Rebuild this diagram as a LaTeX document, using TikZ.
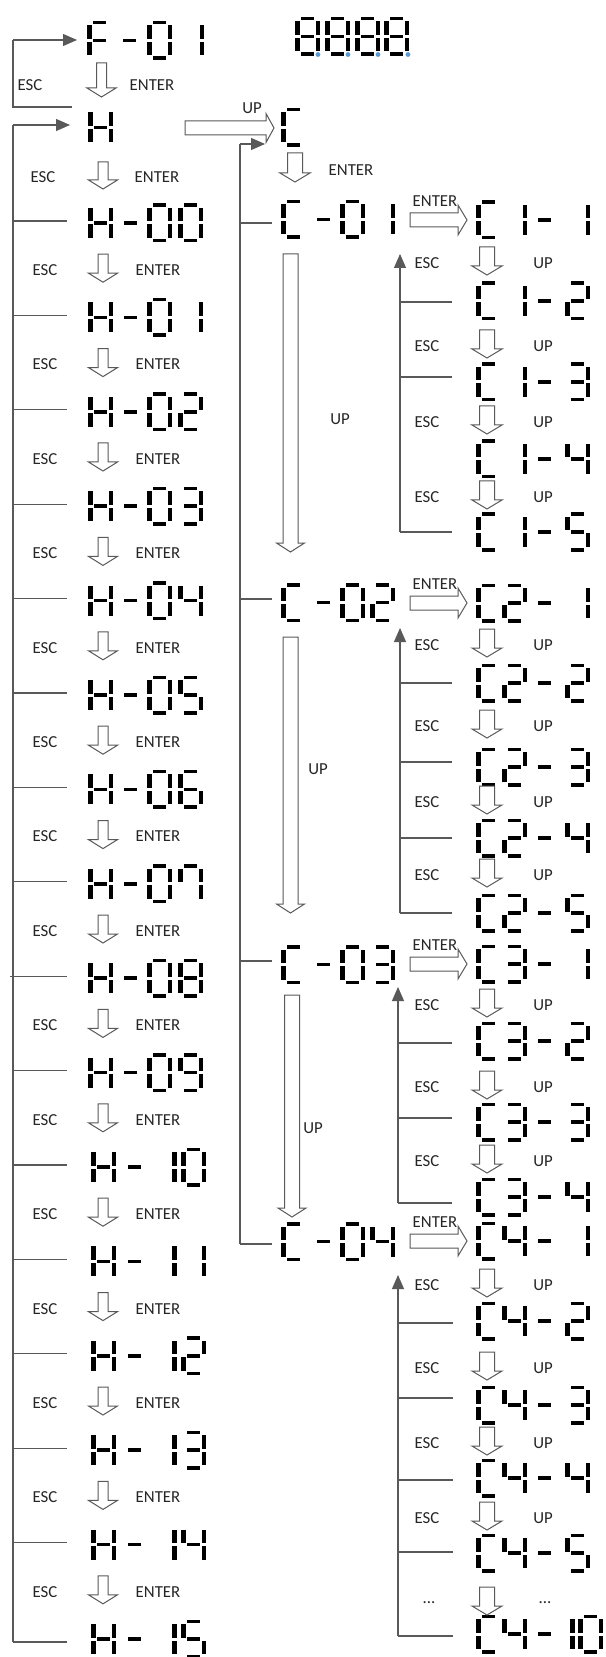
\documentclass[tikz,border=0pt]{standalone}
\usepackage{fontspec}
\setmainfont{Carlito}
\usetikzlibrary{arrows.meta}
\definecolor{dotblue}{HTML}{5B9BD5}
\definecolor{linegray}{HTML}{595959}

% seven-segment pieces, cell 25 x 39 px, origin top-left
\def\segA#1#2{\fill (#1+6,#2) rectangle (#1+19,#2+3.5);}
\def\segB#1#2{\fill (#1+20.5,#2+4.5) rectangle (#1+25,#2+18);}
\def\segC#1#2{\fill (#1+20.5,#2+21) rectangle (#1+25,#2+34.5);}
\def\segD#1#2{\fill (#1+6,#2+35.5) rectangle (#1+19,#2+39);}
\def\segE#1#2{\fill (#1,#2+21) rectangle (#1+4.5,#2+34.5);}
\def\segF#1#2{\fill (#1,#2+4.5) rectangle (#1+4.5,#2+18);}
\def\segG#1#2{\fill (#1+6,#2+17.75) rectangle (#1+19,#2+21.25);}
\expandafter\def\csname sd0\endcsname{A,B,C,D,E,F}
\expandafter\def\csname sd1\endcsname{B,C}
\expandafter\def\csname sd2\endcsname{A,B,G,E,D}
\expandafter\def\csname sd3\endcsname{A,B,G,C,D}
\expandafter\def\csname sd4\endcsname{F,G,B,C}
\expandafter\def\csname sd5\endcsname{A,F,G,C,D}
\expandafter\def\csname sd6\endcsname{A,F,G,E,C,D}
\expandafter\def\csname sd7\endcsname{A,B,C,F}
\expandafter\def\csname sd8\endcsname{A,B,C,D,E,F,G}
\expandafter\def\csname sd9\endcsname{A,B,C,D,F,G}
\expandafter\def\csname sdC\endcsname{A,F,E,D}
\expandafter\def\csname sdH\endcsname{F,E,B,C,G}
\expandafter\def\csname sdF\endcsname{A,F,E,G}
\expandafter\def\csname sd-\endcsname{G}
\expandafter\def\csname sdi\endcsname{E,F}
\newcommand\ssd[3]{\edef\sdlist{\csname sd#3\endcsname}\foreach \q in \sdlist {\csname seg\q\endcsname{#1}{#2}}}
\newcommand\disp[2]{\foreach \px/\pc in {#2}{\edef\dtmp{\noexpand\ssd{\px}{#1}{\pc}}\dtmp}}
% hollow arrows
\newcommand\varrow[5]{\draw[hollow] (#1-#4/2,#2) -- (#1+#4/2,#2) -- (#1+#4/2,#3-9) -- (#1+#5/2,#3-9) -- (#1,#3) -- (#1-#5/2,#3-9) -- (#1-#4/2,#3-9) -- cycle;}
\newcommand\harrow[6]{\draw[hollow] (#1,#3-#4/2) -- (#2-#6,#3-#4/2) -- (#2-#6,#3-#5/2) -- (#2,#3) -- (#2-#6,#3+#5/2) -- (#2-#6,#3+#4/2) -- (#1,#3+#4/2) -- cycle;}

\tikzset{
  conn/.style={draw=linegray, line width=0.55pt},
  tip/.style={-{Triangle[length=7pt,width=6pt]}},
  hollow/.style={draw=linegray, line width=0.5pt, fill=white},
  lbl/.style={font=\fontsize{8.4}{10}\selectfont, text=black!85, inner sep=0pt},
}

\begin{document}
\begin{tikzpicture}[x=0.5pt,y=-0.5pt]
\useasboundingbox (0,0) rectangle (605,1657);
\fill[white] (0,0) rectangle (605,1657);

% ---------- top displays ----------
\coordinate (F01) at (87,40);
\disp{21}{87/F,117/-,147/0,179/1}
\disp{17}{295/8,325/8,355/8,384/8}
\foreach \dx in {318,348,378,408} \fill[dotblue] (\dx,54.5) circle (1.2pt);

% ---------- left column ----------
\coordinate (b1t) at (13,40);
\coordinate (b1b) at (13,107);
\coordinate (b1e) at (72,107);
\draw[conn] (b1e) -- (b1b) -- (b1t);
\draw[conn,tip] (b1t) -- ([xshift=-5pt]F01);
\varrow{101.5}{63}{97}{10}{29}
\node[lbl] (escA) at (30,85) {ESC};
\node[lbl] (entA) at (152,85) {ENTER};

\coordinate (H) at (88,125);
\disp{108}{88/H}
\coordinate (b2t) at (13,125);
\coordinate (b2b) at (13,1642);
\draw[conn] (b2b) -- (b2t);
\draw[conn,tip] (b2t) -- ([xshift=-9pt]H);
\varrow{103}{162}{189}{10}{29}
\node[lbl] (escB) at (43,177) {ESC};
\node[lbl] (entB) at (157,177) {ENTER};

\foreach \k/\da/\db in {0/0/0,1/0/1,2/0/2,3/0/3,4/0/4,5/0/5,6/0/6,7/0/7,8/0/8,9/0/9}{
  \pgfmathsetmacro\cy{223+94.4*\k}
  \pgfmathsetmacro\ty{\cy-19.5}
  \coordinate (Hr\k) at (88,\cy);
  \disp{\ty}{88/H,118/-,147/\da,178/\db}
}
\foreach \k/\db in {10/0,11/1,12/2,13/3,14/4,15/5}{
  \pgfmathsetmacro\cy{223+94.4*\k}
  \pgfmathsetmacro\ty{\cy-19.5}
  \coordinate (Hr\k) at (91,\cy);
  \disp{\ty}{91/H,122/-,151.5/1,181/\db}
}
\foreach \k in {0,...,15}{
  \pgfmathsetmacro\cy{223+94.4*\k}
  \ifnum\k=8
    \draw[conn] (10,\cy-2) -- (67,\cy-2);
  \else\ifnum\k=15
    \draw[conn] (b2b) -- (67,1642);
  \else
    \draw[conn] (b2t |- Hr\k) ++(0,-2) -- ++(54,0);
  \fi\fi
  \ifnum\k<15
    \pgfmathsetmacro\ly{\cy+47.2}
    \varrow{103}{\ly-16}{\ly+12}{10}{29}
    \node[lbl] (escL\k) at (45,\ly) {ESC};
    \node[lbl] (entL\k) at (158,\ly) {ENTER};
  \fi
}

% ---------- middle column ----------
\harrow{185}{274}{128}{14}{29}{8}
\node[lbl] (upHC) at (252,108) {UP};
\coordinate (C) at (281,144);
\disp{108}{281/C}
\coordinate (mt) at (240,144);
\coordinate (mb) at (240,1244);
\draw[conn] (mb) -- (mt);
\draw[conn,tip] (mt) -- ([xshift=-8pt]C);
\varrow{295}{153}{182}{15}{30}
\node[lbl] (entC) at (351,170) {ENTER};

\foreach \k/\ty/\cy/\tk in {1/200/220/223,2/583/603/599,3/945/964/961,4/1222/1241/1244}{
  \coordinate (Cm\k) at (281,\cy);
  \disp{\ty}{281/C,311/-,340/0,370/\k}
  \draw[conn] (240,\tk) -- (272,\tk);
  \harrow{410}{467}{\cy}{14}{30}{9}
  \node[lbl] (entM\k) at (435,\cy-19) {ENTER};
}
\varrow{290.5}{254}{552}{15}{28}
\node[lbl] (upM1) at (340,419) {UP};
\varrow{290.5}{637}{913}{15}{28}
\node[lbl] (upM2) at (318,769) {UP};
\varrow{292}{995}{1217}{15}{28}
\node[lbl] (upM3) at (313,1128) {UP};

% ---------- right column ----------
% C1
\foreach \r/\ty in {1/200.5,2/281.5,3/362.5,4/439.5,5/512.5}{
  \coordinate (R1\r) at (476,\ty+19.5);
  \disp{\ty}{476/C,502/1,532/-,565/\r}}
\coordinate (e1t) at (400,254);
\coordinate (e1b) at (400,532);
\draw[conn,tip] (e1b) -- (e1t);
\foreach \t in {302,377,532} \draw[conn] (400,\t) -- (452,\t);
\foreach \L in {263,346,422,497}{
  \varrow{487}{\L-16}{\L+12}{15}{30}
  \node[lbl] (escR\L) at (427,\L) {ESC};
  \node[lbl] (upR\L) at (543,\L) {UP};}

% C2
\foreach \r/\ty in {1/583.5,2/663.5,3/747.5,4/818.5,5/893.5}{
  \coordinate (R2\r) at (476,\ty+19.5);
  \disp{\ty}{476/C,502/2,532/-,565/\r}}
\coordinate (e2t) at (400,628);
\coordinate (e2b) at (400,913);
\draw[conn,tip] (e2b) -- (e2t);
\foreach \t in {683,762,838,913} \draw[conn] (400,\t) -- (452,\t);
\foreach \L in {645,726,802,875}{
  \varrow{487}{\L-16}{\L+12}{15}{30}
  \node[lbl] (escR\L) at (427,\L) {ESC};
  \node[lbl] (upR\L) at (543,\L) {UP};}

% C3
\foreach \r/\ty in {1/944.5,2/1021.5,3/1102.5,4/1177.5}{
  \coordinate (R3\r) at (476,\ty+19.5);
  \disp{\ty}{476/C,502/3,532/-,565/\r}}
\coordinate (e3t) at (398,987);
\coordinate (e3b) at (398,1203);
\draw[conn,tip] (e3b) -- (e3t);
\foreach \t in {1043,1118,1203} \draw[conn] (398,\t) -- (452,\t);
\foreach \L in {1005,1087,1161}{
  \varrow{487}{\L-16}{\L+12}{15}{30}
  \node[lbl] (escR\L) at (427,\L) {ESC};
  \node[lbl] (upR\L) at (543,\L) {UP};}

% C4
\foreach \r/\ty in {1/1221.5,2/1301.5,3/1385.5,4/1458.5,5/1533.5}{
  \coordinate (R4\r) at (476,\ty+19.5);
  \disp{\ty}{476/C,502/4,532/-,565/\r}}
\coordinate (R410) at (476,1634);
\disp{1614.5}{476/C,502/4,532/-,570/i,578/0}
\coordinate (e4t) at (398,1275);
\coordinate (e4b) at (398,1636);
\draw[conn,tip] (e4b) -- (e4t);
\foreach \t in {1323,1398,1480,1552,1636} \draw[conn] (398,\t) -- (453,\t);
\foreach \L in {1285,1368,1443,1518}{
  \varrow{487}{\L-16}{\L+12}{15}{30}
  \node[lbl] (escR\L) at (427,\L) {ESC};
  \node[lbl] (upR\L) at (543,\L) {UP};}
\varrow{487}{1587}{1615}{15}{30}
\node[lbl] (dotsL) at (429,1603) {...};
\node[lbl] (dotsR) at (545,1603) {...};
\end{tikzpicture}
\end{document}
